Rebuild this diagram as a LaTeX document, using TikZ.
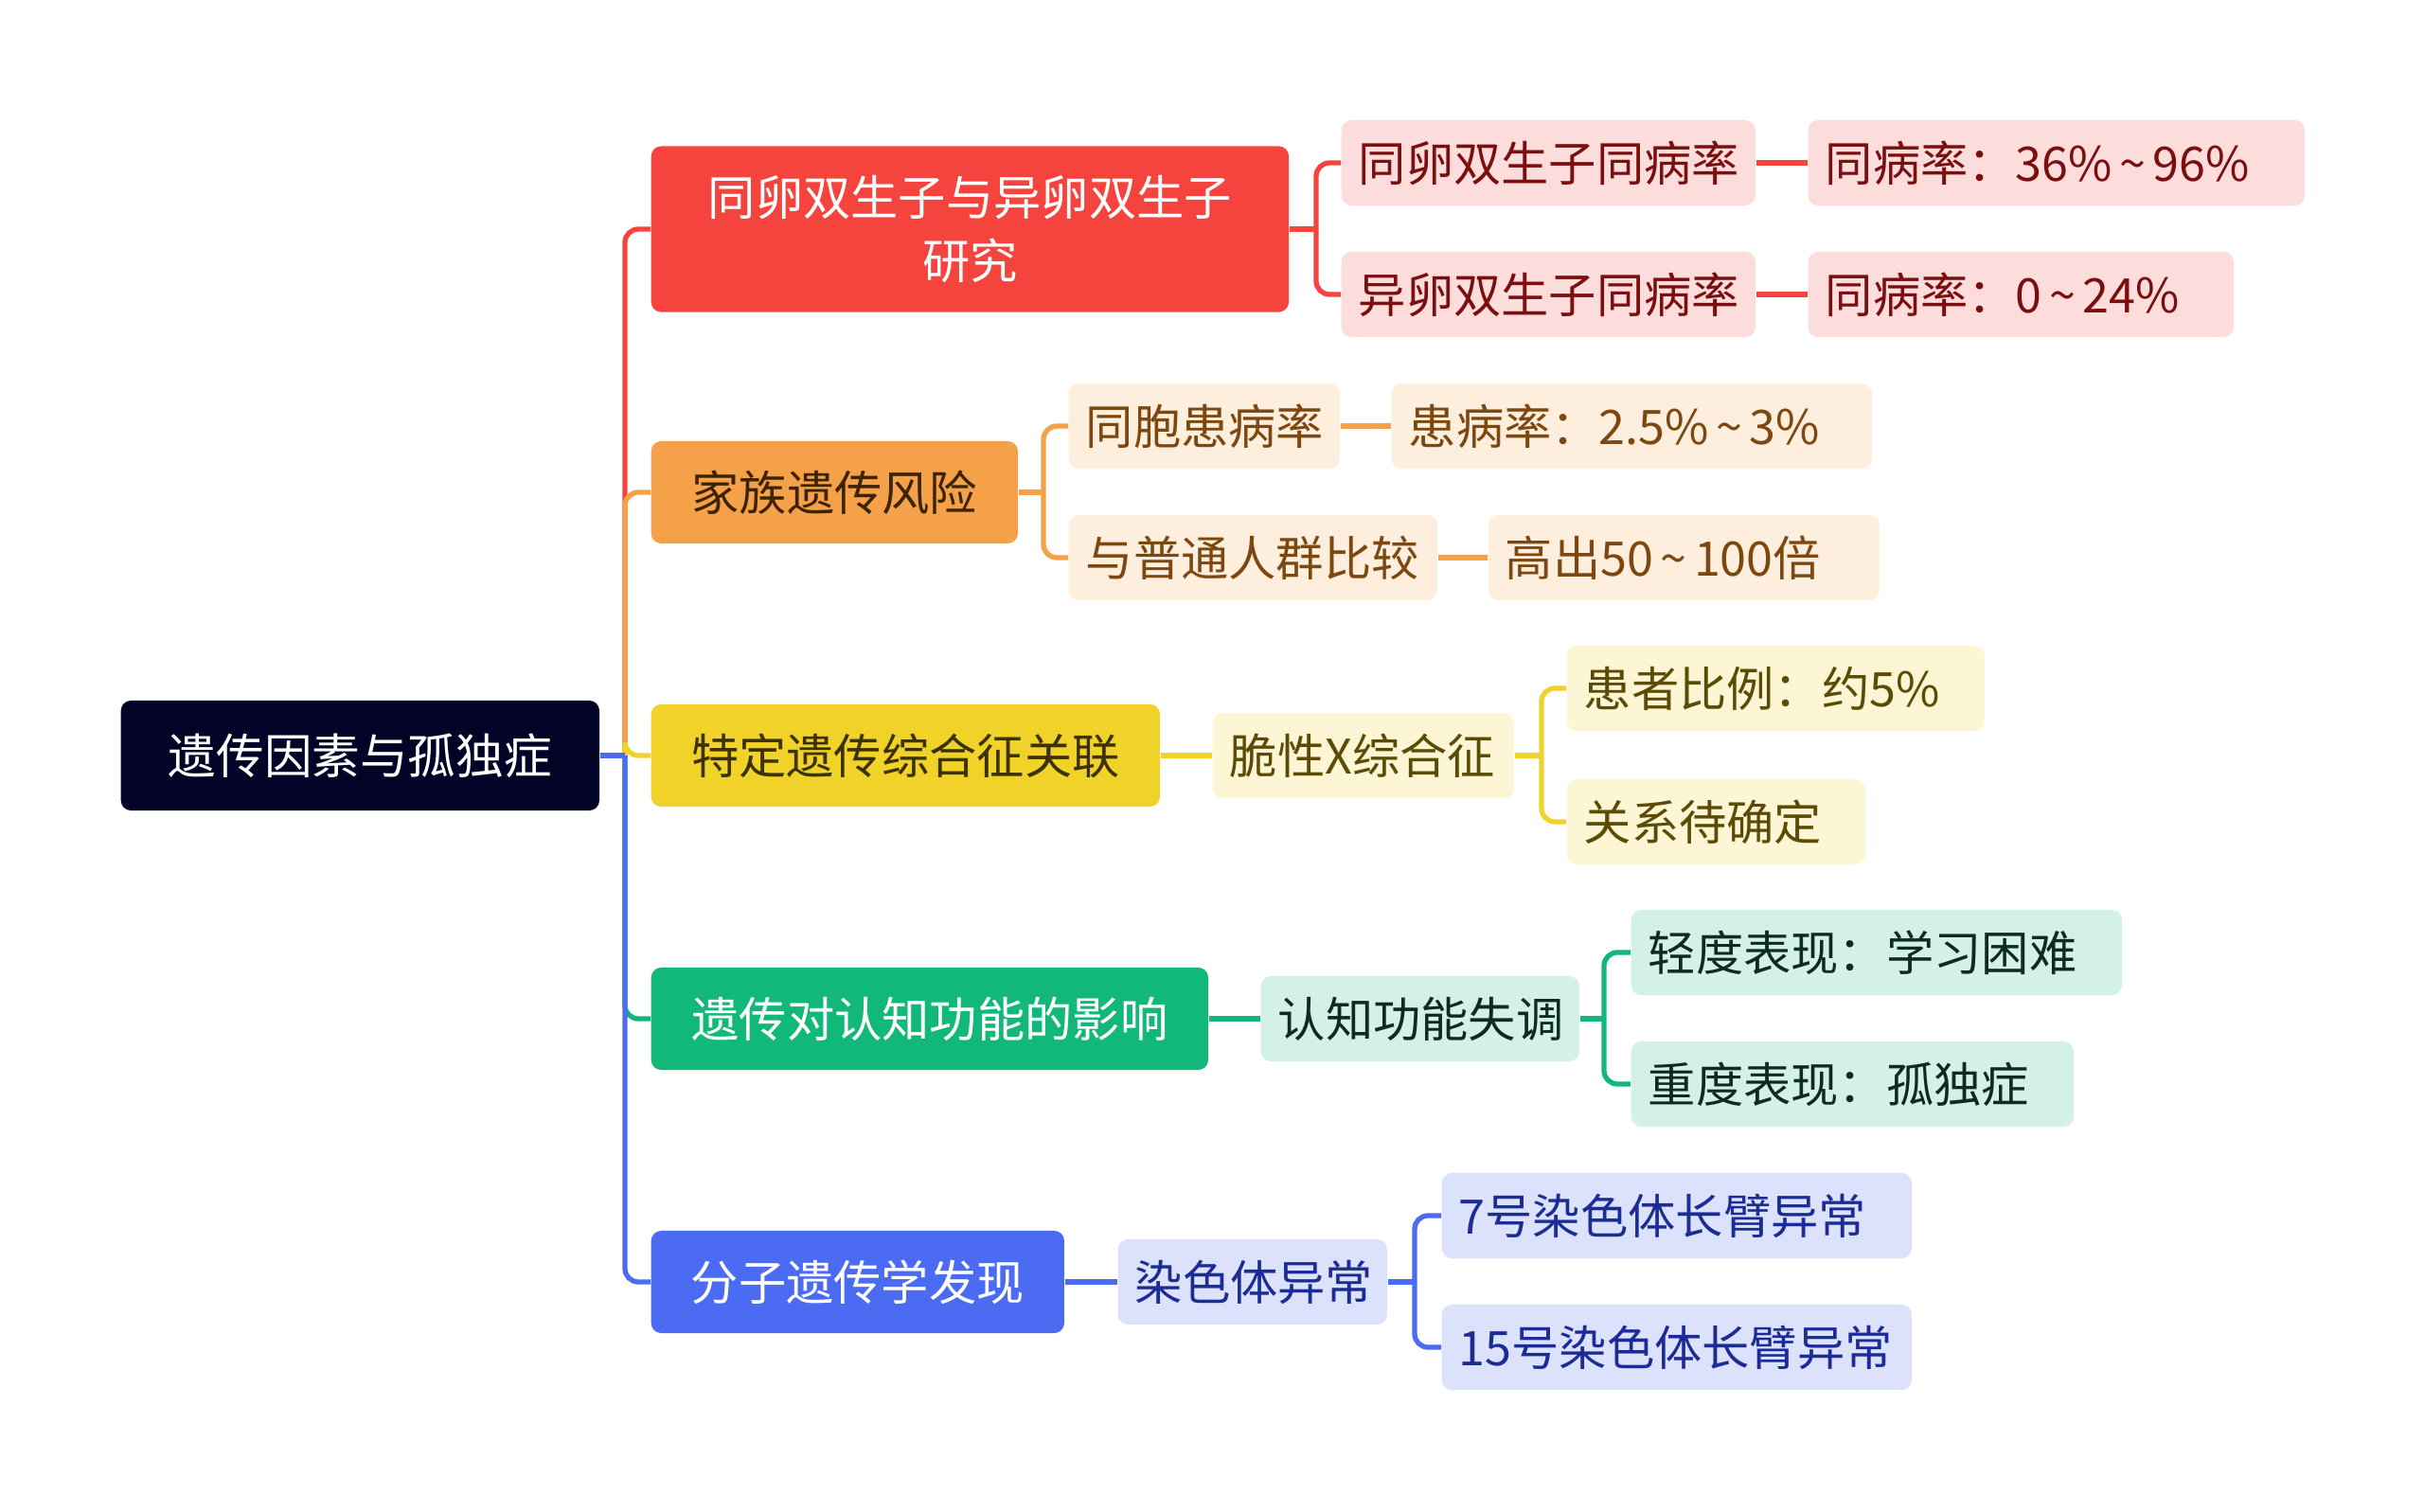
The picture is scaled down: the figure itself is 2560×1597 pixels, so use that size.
\documentclass[tikz,border=0pt]{standalone}
\usepackage{fontspec}
\setmainfont{Noto Sans CJK SC}
\definecolor{rootbg}{HTML}{020326}
\definecolor{redmain}{HTML}{F5443D}
\definecolor{redlight}{HTML}{FDDDDC}
\definecolor{redtext}{HTML}{7B0E0E}
\definecolor{orgmain}{HTML}{F4A14A}
\definecolor{orglight}{HTML}{FDEEDD}
\definecolor{orgtext}{HTML}{7D4810}
\definecolor{orgdark}{HTML}{3D2300}
\definecolor{ylwmain}{HTML}{F0D228}
\definecolor{ylwlight}{HTML}{FCF6D5}
\definecolor{ylwtext}{HTML}{5C4B05}
\definecolor{ylwdark}{HTML}{3B3200}
\definecolor{grnmain}{HTML}{12B87A}
\definecolor{grnlight}{HTML}{D3F2E5}
\definecolor{grntext}{HTML}{0D2C20}
\definecolor{blumain}{HTML}{4A6BF2}
\definecolor{blulight}{HTML}{DCE2FB}
\definecolor{blutext}{HTML}{1B2C96}
\newcommand{\sq}{\hspace{.15em}\textasciitilde\hspace{.15em}}
\tikzset{
  box/.style      = {rounded corners=3pt,inner sep=0pt,anchor=west,font=\fontsize{14.3}{19}\selectfont},
  rootbox/.style  = {box,fill=rootbg,text=white,minimum height=1.16cm,font=\fontsize{14.4}{19}\selectfont},
  mainbox/.style  = {box,minimum height=1.08cm,align=center},
  leafbox/.style  = {box,minimum height=0.9cm,inner xsep=0.18cm,align=left},
  link/.style     = {line width=1.5pt,rounded corners=4pt}
}
% name, left/centre point, width, colour, text
\newcommand{\leaf}[5]{%
  \node[leafbox,fill=#4light,text=#4text,text width=#3cm-0.36cm] (#1) at (#2) {#5};
}

\begin{document}
\begin{tikzpicture}[x=0.01cm,y=-0.01cm]
  \useasboundingbox (0,0) rectangle (2560,1597);
  % root and main branches
  \node[rootbox,minimum width=5.05cm] (root) at (127,798) {遗传因素与孤独症};
  \node[mainbox,fill=redmain,text=white,minimum width=6.73cm,minimum height=1.75cm] (twin) at (687,242) {同卵双生子与异卵双生子\\研究};
  \node[mainbox,fill=orgmain,text=orgdark,minimum width=3.87cm] (family) at (687,520) {家族遗传风险};
  \node[mainbox,fill=ylwmain,text=ylwdark,minimum width=5.37cm] (syndrome) at (687,798) {特定遗传综合征关联};
  \node[mainbox,fill=grnmain,text=white,minimum width=5.88cm] (cognition) at (687,1076) {遗传对认知功能的影响};
  \node[mainbox,fill=blumain,text=white,minimum width=4.36cm] (molecular) at (687,1354) {分子遗传学发现};

  % second and third level
  \leaf{mono}{1416,172}{4.37}{red}{同卵双生子同病率}
  \leaf{di}{1416,311}{4.37}{red}{异卵双生子同病率}
  \leaf{monorate}{1909,172}{5.24}{red}{同病率：36\%\sq96\%}
  \leaf{dirate}{1909,311}{4.49}{red}{同病率：0\sq24\%}
  \leaf{sibling}{1128,450}{2.86}{org}{同胞患病率}
  \leaf{compare}{1128,589}{3.89}{org}{与普通人群比较}
  \leaf{sibrate}{1469,450}{5.07}{org}{患病率：2.5\%\sq3\%}
  \leaf{higher}{1571,589}{4.13}{org}{高出50\sq100倍}
  \leaf{fragile}{1280,798}{3.18}{ylw}{脆性X综合征}
  \leaf{share}{1654,727}{4.41}{ylw}{患者比例：约5\%}
  \leaf{unsure}{1654,868}{3.15}{ylw}{关系待确定}
  \leaf{dysfunc}{1331,1076}{3.36}{grn}{认知功能失调}
  \leaf{mild}{1722,1006}{5.18}{grn}{轻度表现：学习困难}
  \leaf{severe}{1722,1145}{4.67}{grn}{重度表现：孤独症}
  \leaf{chromo}{1180,1354}{2.84}{blu}{染色体异常}
  \leaf{chr7}{1522,1284}{4.96}{blu}{7号染色体长臂异常}
  \leaf{chr15}{1522,1423}{4.96}{blu}{15号染色体长臂异常}

  % junctions
  \coordinate (jroot) at (660,798);
  \coordinate (jtwin) at (1390,242);
  \coordinate (jfam) at (1102,520);
  \coordinate (jfrag) at (1628,798);
  \coordinate (jdys) at (1694,1076);
  \coordinate (jchr) at (1494,1354);

  % connectors
  \draw[link,redmain] (jroot) |- (twin.west);
  \draw[link,redmain] (twin.east) -- (jtwin);
  \draw[link,redmain] (jtwin) |- (mono.west);
  \draw[link,redmain] (jtwin) |- (di.west);
  \draw[link,redmain] (mono) -- (monorate);
  \draw[link,redmain] (di) -- (dirate);

  \draw[link,orgmain] (jroot) |- (family.west);
  \draw[link,orgmain] (family.east) -- (jfam);
  \draw[link,orgmain] (jfam) |- (sibling.west);
  \draw[link,orgmain] (jfam) |- (compare.west);
  \draw[link,orgmain] (sibling) -- (sibrate);
  \draw[link,orgmain] (compare) -- (higher);

  \draw[link,ylwmain] (jroot) |- (syndrome.west);
  \draw[link,ylwmain] (syndrome) -- (fragile);
  \draw[link,ylwmain] (fragile.east) -- (jfrag);
  \draw[link,ylwmain] (jfrag) |- (share.west);
  \draw[link,ylwmain] (jfrag) |- (unsure.west);

  \draw[link,grnmain] (jroot) |- (cognition.west);
  \draw[link,grnmain] (cognition) -- (dysfunc);
  \draw[link,grnmain] (dysfunc.east) -- (jdys);
  \draw[link,grnmain] (jdys) |- (mild.west);
  \draw[link,grnmain] (jdys) |- (severe.west);

  \draw[link,blumain] (jroot) |- (molecular.west);
  \draw[link,blumain] (molecular) -- (chromo);
  \draw[link,blumain] (chromo.east) -- (jchr);
  \draw[link,blumain] (jchr) |- (chr7.west);
  \draw[link,blumain] (jchr) |- (chr15.west);
  \draw[link,blumain] (root.east) -- (jroot);
\end{tikzpicture}
\end{document}
